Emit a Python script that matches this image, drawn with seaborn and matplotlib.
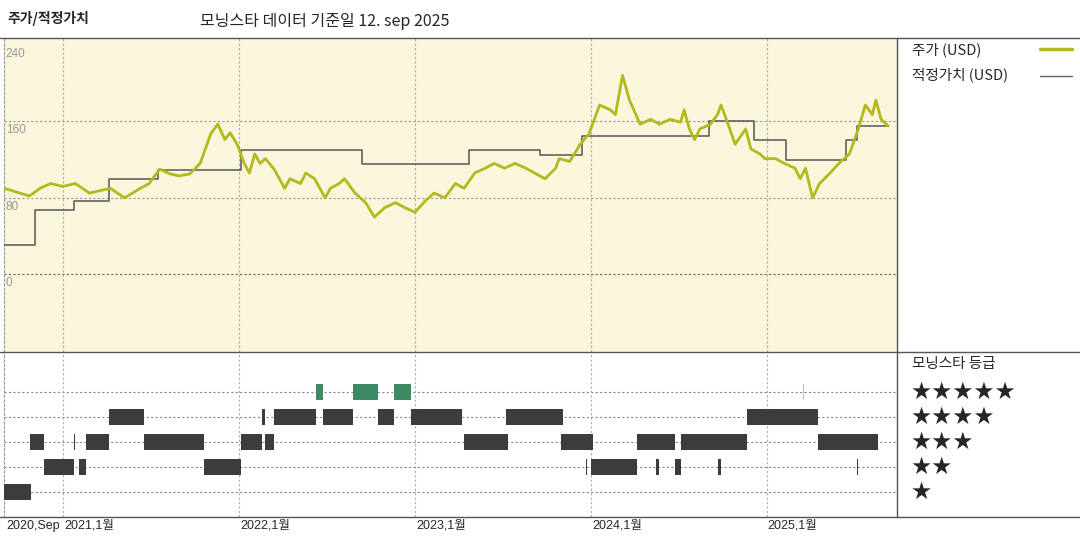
import matplotlib
matplotlib.use("Agg")
import matplotlib.pyplot as plt
import seaborn as sns
import pandas as pd

sns.set_style("white")
plt.rcParams['font.family'] = ['Noto Sans CJK KR', 'DejaVu Sans']

# ---- data (x in fractional years) ----
price_year = [2020.665, 2020.81, 2020.87, 2020.93, 2021.00, 2021.07, 2021.15, 2021.27, 2021.35, 2021.44,
              2021.49, 2021.55, 2021.61, 2021.66, 2021.72, 2021.78, 2021.84, 2021.88, 2021.92, 2021.95,
              2021.99, 2022.03, 2022.06, 2022.09, 2022.12, 2022.15, 2022.20, 2022.26, 2022.29, 2022.35,
              2022.38, 2022.43, 2022.49, 2022.52, 2022.57, 2022.60, 2022.66, 2022.72, 2022.77, 2022.83,
              2022.89, 2022.94, 2023.00, 2023.06, 2023.11, 2023.17, 2023.23, 2023.28, 2023.34, 2023.40,
              2023.45, 2023.51, 2023.57, 2023.63, 2023.68, 2023.74, 2023.80, 2023.82, 2023.88, 2023.94,
              2023.99, 2024.05, 2024.11, 2024.14, 2024.18, 2024.22, 2024.28, 2024.34, 2024.39, 2024.45,
              2024.51, 2024.53, 2024.56, 2024.59, 2024.62, 2024.68, 2024.72, 2024.74, 2024.78, 2024.82,
              2024.88, 2024.91, 2024.96, 2024.99, 2025.05, 2025.10, 2025.16, 2025.19, 2025.22, 2025.26,
              2025.30, 2025.36, 2025.41, 2025.47, 2025.52, 2025.56, 2025.60, 2025.62, 2025.65, 2025.69]
price_usd = [90, 82, 90, 95, 92, 95, 85, 90, 80, 90,
             95, 110, 105, 103, 105, 116, 147, 157, 141, 148,
             136, 116, 106, 126, 116, 121, 110, 90, 100, 95,
             106, 100, 80, 90, 95, 100, 85, 75, 60, 70,
             75, 70, 65, 77, 85, 80, 95, 90, 106, 111,
             116, 111, 116, 111, 106, 100, 111, 121, 118, 136,
             147, 177, 172, 167, 208, 182, 157, 162, 157, 162,
             159, 172, 152, 141, 152, 157, 167, 177, 157, 136,
             152, 131, 126, 121, 121, 116, 111, 100, 111, 80,
             95, 106, 116, 126, 152, 177, 167, 182, 162, 155]

fv_year = [2020.665, 2020.84, 2021.06, 2021.26, 2021.54, 2022.01, 2022.70, 2023.31, 2023.71, 2023.95,
           2024.67, 2024.93, 2025.11, 2025.45, 2025.51, 2025.69]
fv_usd = [31, 67, 77, 100, 109, 130, 115, 130, 125, 145, 160, 140, 120, 140, 155, 155]

# rating periods: (rating, start, end)
rating_level = [1, 2, 2, 2, 2, 2, 2, 2, 2, 2, 2,
                3, 3, 3, 3, 3, 3, 3, 3, 3, 3, 3,
                4, 4, 4, 4, 4, 4, 4, 4,
                5, 5, 5, 5]
rating_start = [2020.665, 2020.85, 2020.89, 2021.09, 2021.80, 2023.975, 2024.00, 2024.37, 2024.48, 2024.72, 2025.51,
                2020.81, 2021.06, 2021.13, 2021.46, 2022.01, 2022.15, 2023.28, 2023.83, 2024.26, 2024.51, 2025.29,
                2021.26, 2022.13, 2022.20, 2022.48, 2022.79, 2022.98, 2023.52, 2024.89,
                2022.44, 2022.65, 2022.88, 2025.205]
rating_end = [2020.82, 2020.855, 2021.06, 2021.13, 2022.01, 2023.98, 2024.26, 2024.39, 2024.51, 2024.74, 2025.52,
              2020.89, 2021.07, 2021.26, 2021.80, 2022.13, 2022.20, 2023.53, 2024.01, 2024.48, 2024.89, 2025.63,
              2021.46, 2022.15, 2022.44, 2022.65, 2022.88, 2023.27, 2023.84, 2025.29,
              2022.48, 2022.79, 2022.98, 2025.21]

year_ticks = [2021, 2022, 2023, 2024, 2025]
year_labels = ["2021,1월", "2022,1월", "2023,1월", "2024,1월", "2025,1월"]
y_ticks = [0, 80, 160, 240]

XMIN, XMAX = 2020.665, 2025.74

fig = plt.figure(figsize=(10.8, 5.4), dpi=100)
L, R = 4/1080, 897/1080
ax = fig.add_axes([L, 1-352/540, R-L, (352-38)/540])
ax2 = fig.add_axes([L, 1-517/540, R-L, (517-352)/540])

ax.set_facecolor("#faf6dc")
sns.lineplot(x=fv_year, y=fv_usd, ax=ax, color="#555555", lw=1.1, drawstyle="steps-post", zorder=3)
sns.lineplot(x=price_year, y=price_usd, ax=ax, color="#b3b81c", lw=2.0, zorder=4)
ax.set_xlim(XMIN, XMAX)
ax.set_ylim(-81, 247)
ax.set_xticks(year_ticks)
ax.set_xticklabels([])
ax.set_yticks([])
for v in y_ticks[:3]:
    ax.axhline(v, color="#666666" if v == 0 else "#999999", ls=(0, (2, 2)), lw=0.8, zorder=1)
for v in y_ticks:
    ax.text(XMIN + 0.01, v - 3, str(v), color="#999999", fontsize=8.5, va="top", ha="left",
            family=['Liberation Sans', 'DejaVu Sans'])
for t in year_ticks:
    ax.axvline(t, color="#aaaaaa", ls=(0, (2, 2)), lw=0.8, zorder=1)
ax.tick_params(length=0)
for s in ax.spines.values():
    s.set_visible(False)
ax.spines['left'].set_visible(True)
ax.spines['left'].set_linestyle((0, (2, 2)))
ax.spines['left'].set_color("#999999")

# ratings panel
for lvl, s, e in zip(rating_level, rating_start, rating_end):
    if lvl == 5:
        col = "#3e8a66" if e - s > 0.01 else "#a8c8c0"
    else:
        col = "#3c3c3c"
    w = max(e - s, 0.004)
    ax2.broken_barh([(s, w)], (lvl - 0.33, 0.66), facecolors=col, edgecolor="none", zorder=3)
ax2.set_xlim(XMIN, XMAX)
ax2.set_ylim(0, 6.6)
for r in range(1, 6):
    ax2.axhline(r, color="#888888", ls=(0, (2, 2)), lw=0.8, zorder=1)
for t in year_ticks:
    ax2.axvline(t, color="#aaaaaa", ls=(0, (2, 2)), lw=0.8, zorder=1)
ax2.set_yticks([])
ax2.set_xticks([])
for s in ax2.spines.values():
    s.set_visible(False)
ax2.spines['left'].set_visible(True)
ax2.spines['left'].set_linestyle((0, (2, 2)))
ax2.spines['left'].set_color("#999999")

fs = ['Liberation Sans', 'Noto Sans CJK KR']
fig.text(6/1080, 1-526/540, "2020,Sep", fontsize=9, va="center", ha="left", family=fs)
for t, lab in zip(year_ticks, year_labels):
    xf = L + (t - XMIN) / (XMAX - XMIN) * (R - L)
    fig.text(xf + 1/1080, 1-526/540, lab, fontsize=9, va="center", ha="left", family=fs)

# frame lines
fig.add_artist(plt.Line2D([0, 1], [1-38/540]*2, color="#555555", lw=1))
fig.add_artist(plt.Line2D([0, 1], [1-352/540]*2, color="#555555", lw=1))
fig.add_artist(plt.Line2D([0, 1], [1-517/540]*2, color="#555555", lw=1))
fig.add_artist(plt.Line2D([R, R], [1-38/540, 1-517/540], color="#555555", lw=1))

# titles
fig.text(7/1080, 1-18/540, "주가/적정가치", fontsize=10, fontweight="bold", va="center", ha="left")
t = fig.text(200/1080, 1-21/540, "모닝스타 데이터 기준일 12. sep 2025", fontsize=11.5, va="center", ha="left")
t.set_fontstretch("expanded")
fig.text(200/1080, 1-21/540, "", fontsize=1)

# legend
fig.text(912/1080, 1-50/540, "주가 (USD)", fontsize=10.5, va="center", ha="left")
fig.text(912/1080, 1-75/540, "적정가치 (USD)", fontsize=10.5, va="center", ha="left")
fig.add_artist(plt.Line2D([1040/1080, 1072/1080], [1-49/540]*2, color="#b3b81c", lw=2.5))
fig.add_artist(plt.Line2D([1040/1080, 1072/1080], [1-76/540]*2, color="#666666", lw=1))
fig.text(912/1080, 1-364/540, "모닝스타 등급", fontsize=10.5, va="center", ha="left")
for i, n in enumerate([5, 4, 3, 2, 1]):
    fig.text(910/1080, 1-(392 + 25*i)/540, "★"*n, fontsize=17, va="center", ha="left",
             family=['DejaVu Sans'])

fig.savefig("out.png", dpi=100)
